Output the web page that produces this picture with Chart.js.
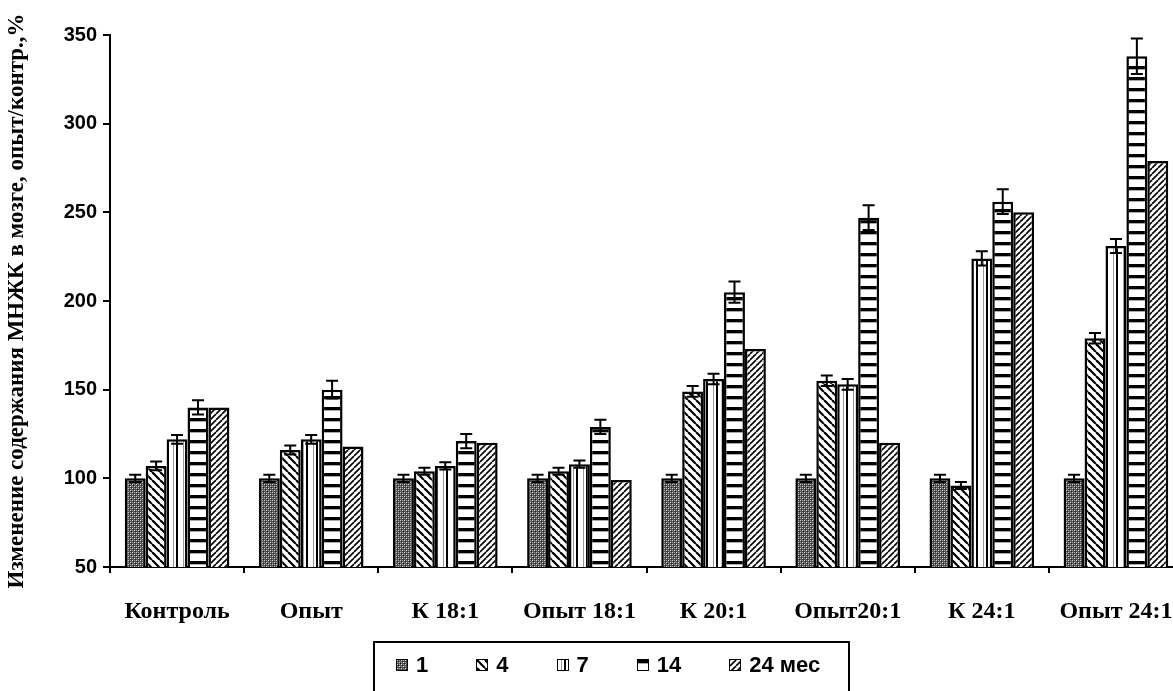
<!DOCTYPE html>
<html>
<head>
<meta charset="utf-8">
<script src="https://cdn.jsdelivr.net/npm/chart.js@4/dist/chart.umd.min.js"></script>
<style>
  body { margin: 0; background: #fff; }
  #wrap { position: relative; width: 1173px; height: 691px; overflow: hidden; }
  #legend {
    position: absolute; left: 373px; top: 641px; width: 477px; height: 60px;
    border: 2px solid #000; box-sizing: border-box;
    display: flex; align-items: flex-start; padding: 9px 0 0 21px;
    font: bold 22px "Liberation Sans", Arial, sans-serif; color: #000;
    white-space: nowrap;
  }
  .item { display: flex; align-items: center; margin-right: 48px; flex-shrink: 0; }
  .sw { width: 10px; height: 10px; border: 1.5px solid #000; margin-right: 8px; flex-shrink: 0; }
</style>
</head>
<body>
<div id="wrap">
  <canvas id="barChart" width="1230" height="691"></canvas>
  <div id="legend"></div>
</div>
<script>
const groups = ['Контроль', 'Опыт', 'К 18:1', 'Опыт 18:1', 'К 20:1', 'Опыт20:1', 'К 24:1', 'Опыт 24:1'];
const seriesNames = ['1', '4', '7', '14', '24 мес'];

const month1 = [100, 100, 100, 100, 100, 100, 100, 100];
const month4 = [107, 116, 104, 104, 149, 155, 96, 179];
const month7 = [122, 122, 107, 108, 156, 153, 224, 231];
const month14 = [140, 150, 121, 129, 205, 247, 256, 338];
const month24 = [140, 118, 120, 99, 173, 120, 250, 279];

const err1 = [2, 2, 2, 2, 2, 2, 2, 2];
const err4 = [2.5, 2.5, 2, 2, 3, 3, 2, 3];
const err7 = [2.5, 2.5, 2, 2, 3, 3, 4, 4];
const err14 = [4, 5, 4, 4, 6, 7, 7, 10];

const yTicks = [50, 100, 150, 200, 250, 300, 350];

// pattern tiles
function tile(w, h, draw) {
    const c = document.createElement('canvas');
    c.width = w; c.height = h;
    const g = c.getContext('2d');
    g.fillStyle = '#fff';
    g.fillRect(0, 0, w, h);
    draw(g);
    return c;
}

const tiles = [
    tile(4, 4, g => {
        g.fillStyle = '#555';
        g.fillRect(0, 0, 4, 4);
        g.fillStyle = '#d0d0d0';
        g.fillRect(0, 0, 1, 1); g.fillRect(2, 2, 1, 1);
        g.fillStyle = '#999';
        g.fillRect(2, 0, 1, 1); g.fillRect(0, 2, 1, 1);
        g.fillStyle = '#222';
        g.fillRect(1, 1, 1, 1); g.fillRect(3, 3, 1, 1);
    }),
    tile(8, 8, g => {
        g.strokeStyle = '#000';
        g.lineWidth = 2.2;
        for (let k = -8; k <= 8; k += 8) {
            g.beginPath(); g.moveTo(k, 0); g.lineTo(k + 8, 8); g.stroke();
        }
    }),
    tile(10, 1, g => {
        g.fillStyle = '#000';
        g.fillRect(6, 0, 2, 1);
        g.fillStyle = '#999';
        g.fillRect(3, 0, 1, 1);
    }),
    tile(1, 11, g => {
        g.fillStyle = '#000';
        g.fillRect(0, 0, 1, 3);
        g.fillStyle = '#aaa';
        g.fillRect(0, 3, 1, 1);
    }),
    tile(6, 6, g => {
        g.strokeStyle = '#000';
        g.lineWidth = 1.6;
        for (let k = -6; k <= 6; k += 6) {
            g.beginPath(); g.moveTo(k, 6); g.lineTo(k + 6, 0); g.stroke();
        }
    })
];

const ctx = document.getElementById('barChart').getContext('2d');
const patterns = tiles.map(t => ctx.createPattern(t, 'repeat'));

const values = [month1, month4, month7, month14, month24];
const errors = [err1, err4, err7, err14, null];

const errorBars = {
    id: 'errorBars',
    afterDatasetsDraw(chart) {
        const c = chart.ctx;
        const y = chart.scales.y;
        c.save();
        c.strokeStyle = '#000';
        c.lineWidth = 2;
        chart.data.datasets.forEach((ds, di) => {
            if (!ds.errors) return;
            chart.getDatasetMeta(di).data.forEach((bar, i) => {
                const v = ds.data[i], e = ds.errors[i];
                const top = y.getPixelForValue(v + e);
                const bot = y.getPixelForValue(v - e);
                c.beginPath();
                c.moveTo(bar.x, top); c.lineTo(bar.x, bot);
                c.moveTo(bar.x - 6, top); c.lineTo(bar.x + 6, top);
                c.moveTo(bar.x - 6, bot); c.lineTo(bar.x + 6, bot);
                c.stroke();
            });
        });
        c.restore();
    }
};

new Chart(ctx, {
    type: 'bar',
    data: {
        labels: groups,
        datasets: seriesNames.map((name, i) => ({
            label: name,
            data: values[i],
            errors: errors[i],
            backgroundColor: patterns[i],
            borderColor: '#000',
            borderWidth: 2.5,
            barPercentage: 1,
            categoryPercentage: 0.78
        }))
    },
    options: {
        responsive: false,
        devicePixelRatio: 1,
        animation: false,
        layout: { padding: { top: 35, right: 47, left: 0, bottom: 0 } },
        plugins: {
            legend: { display: false },
            tooltip: { enabled: false }
        },
        scales: {
            x: {
                afterFit(scale) { scale.height = 124; },
                border: { color: '#000', width: 2 },
                grid: { drawOnChartArea: false, color: '#000', lineWidth: 2, tickLength: 6 },
                ticks: {
                    color: '#000',
                    padding: 24,
                    maxRotation: 0,
                    font: { family: '"Liberation Serif", "Times New Roman", serif', size: 24, weight: 'bold' }
                }
            },
            y: {
                min: 50,
                max: 350,
                afterFit(scale) { scale.width = 110; },
                afterBuildTicks(scale) { scale.ticks = yTicks.map(v => ({ value: v })); },
                border: { color: '#000', width: 2 },
                grid: { drawOnChartArea: false, color: '#000', lineWidth: 2, tickLength: 7 },
                ticks: {
                    color: '#000',
                    padding: 6,
                    font: { family: '"Liberation Sans", Arial, sans-serif', size: 20, weight: 'bold' }
                },
                title: {
                    display: true,
                    text: 'Изменение содержания МНЖК в мозге, опыт/контр.,%',
                    color: '#000',
                    padding: { top: 3, bottom: 0 },
                    font: { family: '"Liberation Serif", "Times New Roman", serif', size: 23, weight: 'bold' }
                }
            }
        }
    },
    plugins: [errorBars]
});

// legend as html, swatches use the same tiles
const legend = document.getElementById('legend');
seriesNames.forEach((name, i) => {
    const item = document.createElement('div');
    item.className = 'item';
    const sw = document.createElement('span');
    sw.className = 'sw';
    sw.style.background = 'url(' + tiles[i].toDataURL() + ') repeat';
    const txt = document.createElement('span');
    txt.textContent = name;
    item.appendChild(sw);
    item.appendChild(txt);
    legend.appendChild(item);
});
</script>
</body>
</html>
